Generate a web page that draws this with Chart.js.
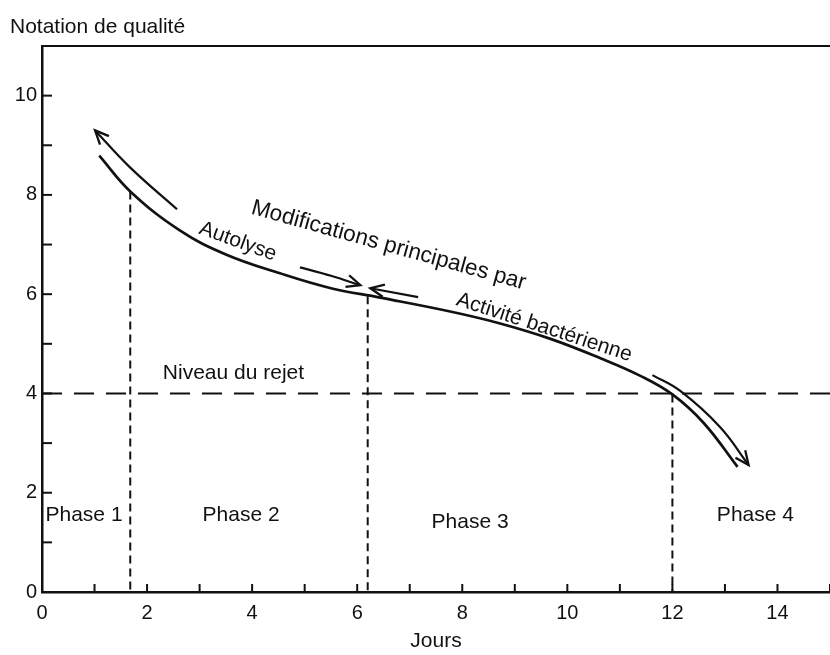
<!DOCTYPE html>
<html>
<head>
<meta charset="utf-8">
<script src="https://cdn.jsdelivr.net/npm/chart.js@4.4.1/dist/chart.umd.min.js"></script>
<style>
  html, body { margin: 0; padding: 0; background: #fff; }
  #wrap { width: 830px; height: 655px; }
</style>
</head>
<body>
<div id="wrap"><canvas id="chart" width="830" height="655"></canvas></div>
<script>
// quality score curve (days, score)
const curveDays  = [1.09, 1.68, 2.63, 3.5, 4.53, 5.5, 6.44, 7.77, 8.72, 9.68, 10.63, 11.4, 12.0, 12.6, 13.24];
const curveScore = [8.79, 8.07, 7.28, 6.8, 6.42, 6.12, 5.93, 5.65, 5.41, 5.1, 4.71, 4.35, 3.98, 3.4, 2.52];

// phase limits (days) and rejection level
const phaseLimits  = [1.68, 6.2, 12];
const phaseTops    = [8.07, 5.96, 3.98];
const rejectLevel  = 4;

// arrows along the curve
const arrowUpDays     = [2.57, 1.68, 1.01];
const arrowUpScore    = [7.71, 8.55, 9.3];
const arrowRightDays  = [4.91, 5.5, 6.06];
const arrowRightScore = [6.54, 6.37, 6.18];
const arrowLeftDays   = [7.16, 6.25];
const arrowLeftScore  = [5.94, 6.12];
const arrowDownDays   = [11.62, 12.15, 12.91, 13.45];
const arrowDownScore  = [4.37, 4.05, 3.32, 2.56];

// axes
const xTickLabels = [0, 2, 4, 6, 8, 10, 12, 14];
const yTickLabels = [0, 2, 4, 6, 8, 10];

const pts = (xs, ys) => xs.map((x, i) => ({ x, y: ys[i] }));
const FONT = '"Liberation Sans", Arial, sans-serif';
const INK = '#111';

const line = (data, extra) => Object.assign({
  data, showLine: true, pointRadius: 0, borderColor: INK, borderWidth: 2.2,
  fill: false
}, extra);

const datasets = [
  line(pts(curveDays, curveScore), { borderWidth: 2.7, tension: 0.4 }),
  line(pts(arrowUpDays, arrowUpScore), { tension: 0.4, arrow: true }),
  line(pts(arrowRightDays, arrowRightScore), { tension: 0.4, arrow: true }),
  line(pts(arrowLeftDays, arrowLeftScore), { arrow: true }),
  line(pts(arrowDownDays, arrowDownScore), { tension: 0.4, arrow: true }),
  line([{ x: 0, y: rejectLevel }, { x: 15, y: rejectLevel }], { borderWidth: 2, borderDash: [20, 12] }),
  ...phaseLimits.map((d, i) => line([{ x: d, y: phaseTops[i] }, { x: d, y: 0 }], { borderWidth: 2, borderDash: [8, 5] }))
];

// text labels placed in data units
const notes = [
  { t: 'Niveau du rejet', x: 2.30, y: 4.41, a: 0, align: 'left' },
  { t: 'Phase 1', x: 0.8, y: 1.55, a: 0 },
  { t: 'Phase 2', x: 3.79, y: 1.55, a: 0 },
  { t: 'Phase 3', x: 8.15, y: 1.41, a: 0 },
  { t: 'Phase 4', x: 13.58, y: 1.55, a: 0 },
  { t: 'Autolyse', x: 3.73, y: 7.06, a: 20 },
  { t: 'Modifications principales par', x: 6.6, y: 6.98, a: 15.5, size: 22.5 },
  { t: 'Activité bactérienne', x: 9.56, y: 5.33, a: 18 }
];

const decor = {
  id: 'decor',
  afterDatasetsDraw(chart) {
    const { ctx, chartArea: ca, scales: { x, y } } = chart;
    ctx.save();
    ctx.strokeStyle = INK;
    ctx.fillStyle = INK;
    ctx.lineWidth = 2;

    // top frame
    ctx.beginPath();
    ctx.moveTo(ca.left - 1, ca.top);
    ctx.lineTo(ca.right, ca.top);
    ctx.stroke();

    // inward ticks
    x.ticks.forEach(t => {
      const px = x.getPixelForValue(t.value);
      ctx.beginPath(); ctx.moveTo(px, ca.bottom); ctx.lineTo(px, ca.bottom - 8); ctx.stroke();
    });
    y.ticks.forEach(t => {
      const py = y.getPixelForValue(t.value);
      ctx.beginPath(); ctx.moveTo(ca.left, py); ctx.lineTo(ca.left + 10, py); ctx.stroke();
    });

    // arrow heads
    ctx.lineWidth = 2.3;
    chart.data.datasets.forEach((ds, i) => {
      if (!ds.arrow) return;
      const meta = chart.getDatasetMeta(i).data;
      const n = meta.length;
      const p1 = meta[n - 1], p0 = meta[n - 2];
      const ang = Math.atan2(p1.y - p0.y, p1.x - p0.x);
      const L = 15, w = 0.42;
      ctx.beginPath();
      ctx.moveTo(p1.x - L * Math.cos(ang - w), p1.y - L * Math.sin(ang - w));
      ctx.lineTo(p1.x, p1.y);
      ctx.lineTo(p1.x - L * Math.cos(ang + w), p1.y - L * Math.sin(ang + w));
      ctx.stroke();
    });

    // notes
    ctx.textBaseline = 'middle';
    notes.forEach(n => {
      ctx.save();
      ctx.font = (n.size || 21) + 'px ' + FONT;
      ctx.translate(x.getPixelForValue(n.x), y.getPixelForValue(n.y));
      ctx.rotate(n.a * Math.PI / 180);
      ctx.textAlign = n.align || 'center';
      ctx.fillText(n.t, 0, 0);
      ctx.restore();
    });

    // y axis caption
    ctx.font = '21px ' + FONT;
    ctx.textAlign = 'left';
    ctx.fillText('Notation de qualité', 10, 27);
    ctx.restore();
  }
};

new Chart(document.getElementById('chart'), {
  type: 'scatter',
  data: { datasets },
  plugins: [decor],
  options: {
    responsive: false,
    animation: false,
    layout: { padding: { top: 46, right: 0, left: 0, bottom: 0 } },
    plugins: { legend: { display: false }, tooltip: { enabled: false } },
    scales: {
      x: {
        type: 'linear', min: 0, max: 15,
        afterFit: s => { s.height = 63; s.paddingRight = 0; s.paddingLeft = 0; },
        grid: { display: false, drawTicks: false },
        border: { display: true, color: INK, width: 2.5 },
        ticks: {
          stepSize: 1, autoSkip: false, maxRotation: 0, padding: 9, color: INK,
          font: { family: FONT, size: 20 },
          callback: v => xTickLabels.includes(v) ? String(v) : ''
        },
        title: { display: true, text: 'Jours', color: INK, font: { family: FONT, size: 21 }, padding: { top: 0, bottom: 1 } }
      },
      y: {
        type: 'linear', min: 0, max: 11,
        afterFit: s => { s.width = 42; s.paddingTop = 0; s.paddingBottom = 0; },
        grid: { display: false, drawTicks: false },
        border: { display: true, color: INK, width: 2.5 },
        ticks: {
          stepSize: 1, autoSkip: false, padding: 5, color: INK,
          font: { family: FONT, size: 20 },
          callback: v => yTickLabels.includes(v) ? String(v) : ''
        }
      }
    }
  }
});
</script>
</body>
</html>
